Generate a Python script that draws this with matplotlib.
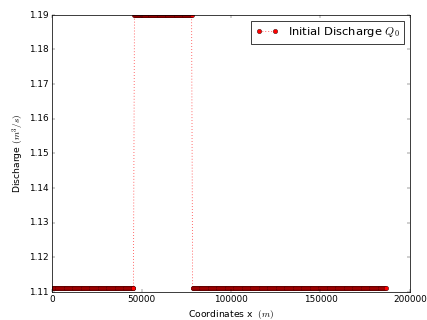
import numpy as np
from matplotlib import pyplot as plt

# segment boundaries along the channel (m) and the discharge in each segment
seg_start = [0, 46000, 78500]
seg_end = [45500, 78000, 186500]
seg_q = [1.1111, 1.1898, 1.1111]
dx = 500

xs = []
qs = []
for a, b, q in zip(seg_start, seg_end, seg_q):
    pts = np.arange(a, b + 1, dx)
    xs.extend(pts)
    qs.extend([q] * len(pts))

if __name__ == '__main__':
    plt.style.use('classic')
    fig, ax = plt.subplots(figsize=(8, 6), dpi=53.375)
    ax.plot(xs, qs, 'ro:', markersize=6, label='Initial Discharge $Q_0$')
    ax.set_xlim(0, 200000)
    ax.set_ylim(1.11, 1.19)
    ax.ticklabel_format(useOffset=False)
    ax.set_xlabel('Coordinates x  $(m)$', fontsize=12.5)
    ax.set_ylabel('Discharge $(m^3/s)$', fontsize=12.5)
    ax.legend(loc='upper right', fontsize=15.5)
    fig.subplots_adjust(left=0.122, right=0.96, top=0.953, bottom=0.088)
    fig.savefig('out.png', dpi=53.375)
